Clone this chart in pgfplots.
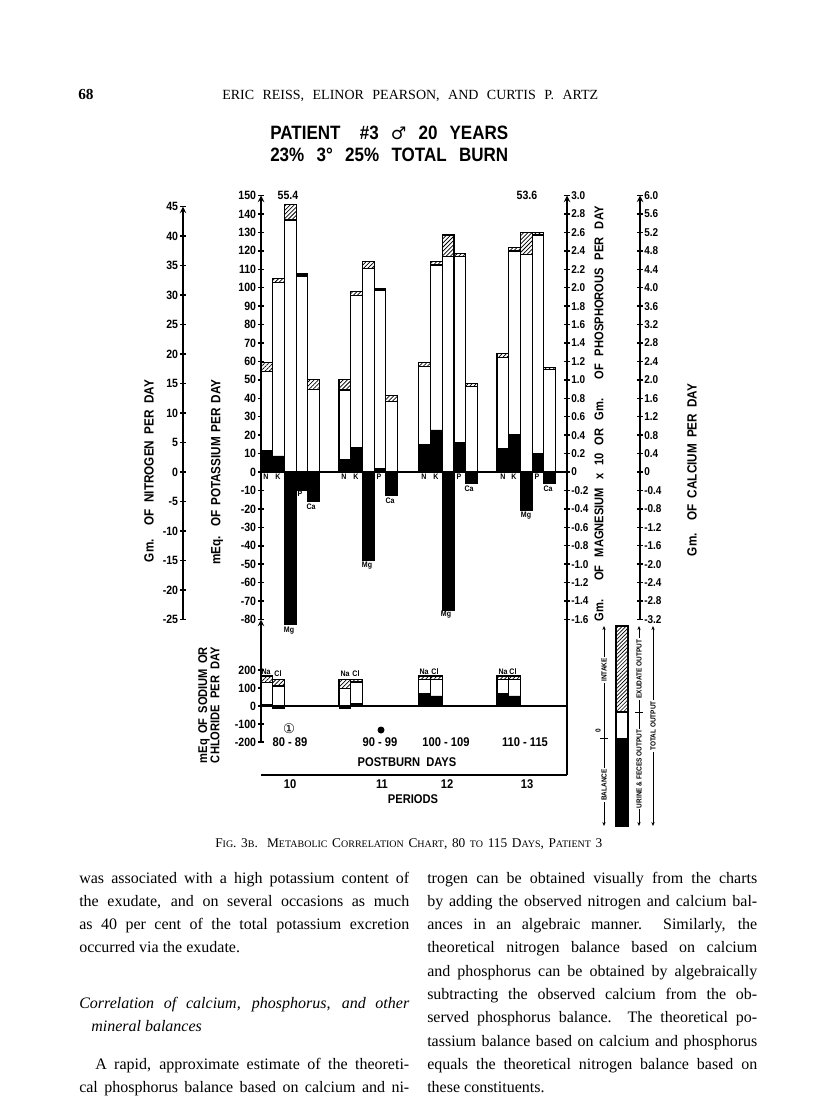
\documentclass[border=0pt]{standalone}
\usepackage{fontspec}
\setmainfont{Liberation Serif}
\setsansfont{Liberation Sans}
\newfontfamily\cf[FakeStretch=0.88]{Liberation Sans}
\newfontfamily\dvs{DejaVu Sans}
\usepackage{pgfplots}
\pgfplotsset{compat=1.18}
\usetikzlibrary{patterns.meta,arrows.meta}

\newcommand\cfs[1]{\cf\bfseries\fontsize{#1}{#1}\selectfont}
\newcommand\sm[1]{{\fontsize{7.5}{7.5}\selectfont #1}}
% body lines: justified (bl) and natural (bn)
\newcommand\bl[3]{\node[anchor=base west, inner sep=0] at (#1,#2) {\fontsize{12}{12}\selectfont\makebox[247.5pt][s]{#3}};}
\newcommand\bn[3]{\node[anchor=base west, inner sep=0] at (#1,#2) {\fontsize{12}{12}\selectfont #3};}

\pgfplotsset{
  spine/.style={scale only axis, axis x line=none, clip=false,
    axis line style={-, line width=1.2pt},
    tick style={black, line width=1.1pt},
    major tick length=4pt, tick align=outside,
    yticklabel style={font=\cfs{9}, inner sep=1.5pt},
    xmin=0, xmax=1},
  hatch/.style={pattern={Lines[angle=45,distance=2.2pt,line width=0.55pt]}},
  bar/.style={ybar, bar width=11.7, bar shift=0pt, draw=black, line width=0.9pt},
}

\begin{document}
\begin{tikzpicture}
\begin{scope}[x=0.75pt,y=-0.75pt]
\fill[white] (0,0) rectangle (816,1109);
\end{scope}

% nitrogen scale
\begin{axis}[spine, at={(137.25pt,-464.625pt)}, anchor=south west,
  width=1pt, height=309.75pt, ymin=-25, ymax=45, axis y line=left,
  ytick={-25,-20,...,45},
  yticklabels={-25,-20,-15,-10,-5,0,5,10,15,20,25,30,35,40,45}]
\end{axis}

% potassium (main) axis with the balance bars
\begin{axis}[spine, at={(195.75pt,-464.625pt)}, anchor=south west,
  width=229.5pt, height=318pt, xmin=261, xmax=567, ymin=-80, ymax=150,
  axis y line=left, ytick={-80,-70,...,150},
  yticklabels={-80,-70,-60,-50,-40,-30,-20,-10,0,10,20,30,40,50,60,70,80,90,100,110,120,130,140,150}]
% total (top of hatched exudate part)
\addplot[bar, hatch] coordinates {
 (266.85,59.5) (278.55,104.9) (290.25,145) (301.95,107.4) (313.65,50)
 (344.85,50) (356.55,97.8) (368.25,114) (379.95,99.3) (391.65,41.4)
 (424.65,59.5) (436.35,114) (448.05,128.6) (459.75,118.6) (471.45,48)
 (502.85,64.4) (514.55,121.7) (526.25,129.9) (537.95,130) (549.65,56.5)};
% white part
\addplot[bar, fill=white] coordinates {
 (266.85,54.4) (278.55,102.7) (290.25,136.7) (301.95,106.3) (313.65,44.9)
 (344.85,44.5) (356.55,95.7) (368.25,110.3) (379.95,98.3) (391.65,38.2)
 (424.65,57.2) (436.35,112.3) (448.05,116.8) (459.75,116.8) (471.45,46.3)
 (502.85,62.2) (514.55,119.9) (526.25,117.9) (537.95,128.6) (549.65,55.5)};
% balance
\addplot[bar, fill=black, line width=0.5pt] coordinates {
 (266.85,11.6) (278.55,8.7) (290.25,-82.7) (301.95,-10) (313.65,-16)
 (344.85,7) (356.55,13.4) (368.25,-47.7) (379.95,2) (391.65,-12.5)
 (424.65,15) (436.35,22.8) (448.05,-74.9) (459.75,16) (471.45,-6.2)
 (502.85,13) (514.55,20.6) (526.25,-20.6) (537.95,10) (549.65,-6.3)};
\addplot[black, line width=1.4pt] coordinates {(261,0) (567,0)};
\end{axis}

% sodium / chloride panel
\begin{axis}[spine, at={(195.75pt,-556.5pt)}, anchor=south west,
  width=229.5pt, height=91.875pt, xmin=261, xmax=567, ymin=-200, ymax=480.56,
  axis y line=left, ytick={-200,-100,0,100,200}, yticklabels={-200,-100,0,100,200}]
\addplot[bar, hatch] coordinates {
 (266.85,167) (278.55,148) (344.85,148) (356.55,148)
 (424.65,167) (436.35,167) (502.85,167) (514.55,167)};
\addplot[bar, fill=white] coordinates {
 (266.85,130) (278.55,111) (344.85,98) (356.55,133)
 (424.65,148) (436.35,148) (502.85,148) (514.55,148)};
\addplot[bar, fill=black, line width=0.5pt] coordinates {
 (266.85,8) (278.55,-13) (344.85,-13) (356.55,15)
 (424.65,70) (436.35,56) (502.85,70) (514.55,56)};
\addplot[black, line width=1.4pt] coordinates {(261,0) (567,0)};
\end{axis}

% magnesium x 10 / phosphorus scale
\begin{axis}[spine, at={(425.25pt,-464.625pt)}, anchor=south east,
  width=1pt, height=318pt, ymin=-80, ymax=150, axis y line=right,
  yticklabel style={font=\cfs{8.5}, inner sep=1pt},
  ytick={-80,-70,...,150},
  yticklabels={-1.6,-1.4,-1.2,-1.0,-0.8,-0.6,-0.4,-0.2,0,0.2,0.4,0.6,0.8,1.0,1.2,1.4,1.6,1.8,2.0,2.2,2.4,2.6,2.8,3.0}]
\end{axis}

% calcium scale
\begin{axis}[spine, at={(480pt,-464.625pt)}, anchor=south east,
  width=1pt, height=318pt, ymin=-80, ymax=150, axis y line=right,
  yticklabel style={font=\cfs{8.5}, inner sep=1pt},
  ytick={-80,-70,...,150},
  yticklabels={-3.2,-2.8,-2.4,-2.0,-1.6,-1.2,-0.8,-0.4,0,0.4,0.8,1.2,1.6,2.0,2.4,2.8,3.2,3.6,4.0,4.4,4.8,5.2,5.6,6.0}]
\end{axis}

\begin{scope}[x=0.75pt,y=-0.75pt]
% header and title
\node[anchor=base west, inner sep=0] at (78,100) {\bfseries\fontsize{11.5}{11.5}\selectfont 68};
\node[anchor=base west, inner sep=0] at (222,100) {\fontsize{10.5}{10.5}\selectfont\makebox[282pt][s]{ERIC REISS, ELINOR PEARSON, AND CURTIS P. ARTZ}};
\node[anchor=base west, inner sep=0] at (270,140) {\cfs{14.5}\makebox[178.5pt][s]{PATIENT\quad \#3 {\dvs\bfseries\fontsize{13}{13}\selectfont ♂} 20 YEARS}};
\node[anchor=base west, inner sep=0] at (270,162) {\cfs{14.5}\makebox[178.5pt][s]{23\% 3° 25\%\ TOTAL BURN}};

% lines continuing the chart frame
\draw[line width=1.2pt] (567,619.5) -- (567,775);
\draw[line width=1.3pt] (261,775) -- (567,775);

% numbers above bars
\node[font=\cfs{9}] at (288,195) {55.4};
\node[font=\cfs{9}] at (527,195) {53.6};

% bar letters
\begin{scope}[every node/.style={font=\cfs{6}, inner sep=0}]
\node at (266,477) {N}; \node at (278,477) {K};
\node at (344,477) {N}; \node at (356,477) {K};
\node at (424,477) {N}; \node at (436,477) {K};
\node at (503,477) {N}; \node at (514,477) {K};
\node at (300,494) {P}; \node at (379,477) {P}; \node at (459,477) {P}; \node at (537,477) {P};
\node at (311,507) {Ca}; \node at (390,501) {Ca}; \node at (469,489) {Ca}; \node at (548,489) {Ca};
\node at (289,631) {Mg}; \node at (367,566) {Mg}; \node at (446,615) {Mg}; \node at (526,516) {Mg};
\node at (266,672) {Na}; \node at (278,674) {Cl};
\node at (345,674) {Na}; \node at (356,674) {Cl};
\node at (424,672) {Na}; \node at (435,672) {Cl};
\node at (503,672) {Na}; \node at (513,672) {Cl};
\end{scope}

% axis titles
\node[rotate=90, font=\cfs{10}] at (149,471) {\makebox[136.5pt][s]{Gm. OF NITROGEN PER DAY}};
\node[rotate=90, font=\cfs{10}] at (217,472) {\makebox[138.75pt][s]{mEq. OF POTASSIUM PER DAY}};
\node[rotate=90, font=\cfs{9.5}] at (204,705) {\makebox[87pt][s]{mEq OF SODIUM OR}};
\node[rotate=90, font=\cfs{9.5}] at (215,705) {\makebox[87pt][s]{CHLORIDE PER DAY}};
\node[rotate=90, font=\cfs{9.5}] at (599,414) {\makebox[311.25pt][s]{Gm. OF MAGNESIUM x 10 OR Gm. OF PHOSPHOROUS PER DAY}};
\node[rotate=90, font=\cfs{10}] at (692,470) {\makebox[129pt][s]{Gm. OF CALCIUM PER DAY}};

% days and periods
\node[font={\dvs\fontsize{10}{10}\selectfont}] at (289,729) {①};
\fill (381,730) circle (3.5);
\begin{scope}[every node/.style={font=\cfs{9.5}}]
\node at (290,742) {80 - 89};
\node at (380,742) {90 - 99};
\node at (446,742) {100 - 109};
\node at (525,742) {110 - 115};
\node at (407,762) {POSTBURN\ \ DAYS};
\node at (290,784) {10};
\node at (382,784) {11};
\node at (447,784) {12};
\node at (527,784) {13};
\node at (413,799) {PERIODS};
\end{scope}

% key bar
\fill[white] (616,626) rectangle (628,826);
\fill[pattern={Lines[angle=45,distance=2pt,line width=0.5pt]}] (616,626) rectangle (628,712);
\fill[black] (616,738) rectangle (628,826);
\draw[line width=0.8pt] (616,626) rectangle (628,826);
\draw[line width=0.8pt] (616,712) -- (628,712);
\begin{scope}[line width=0.6pt, >={Stealth[length=3pt,width=2.5pt]}]
\draw[<->] (604,626) -- (604,826);
\draw (600,738) -- (608,738);
\draw[<->] (639,626) -- (639,826);
\draw (635,712) -- (643,712);
\draw[<->] (653,626) -- (653,826);
\end{scope}
\begin{scope}[every node/.style={rotate=90, fill=white, inner sep=1pt, font=\cfs{5.5}}]
\node at (604,670) {INTAKE};
\node at (604,785) {BALANCE};
\node at (639,669) {EXUDATE OUTPUT};
\node at (639,769) {URINE \& FECES OUTPUT};
\node at (653,726) {TOTAL OUTPUT};
\end{scope}
\node[rotate=90, inner sep=0, font=\cfs{5.5}] at (598,731) {0};

% caption
\node[anchor=base west, inner sep=0] at (215,847) {\fontsize{10}{10}\selectfont\makebox[290.25pt][s]{F\sm{IG}. 3\sm{B}.\ \ M\sm{ETABOLIC} C\sm{ORRELATION} C\sm{HART}, 80 \sm{TO} 115 D\sm{AYS}, P\sm{ATIENT} 3}};

% body text, left column
\bl{79}{883}{was associated with a high potassium content of}
\bl{79}{906.3}{the exudate, and on several occasions as much}
\bl{79}{929.6}{as 40 per cent of the total potassium excretion}
\bn{79}{952.9}{occurred via the exudate.}
\bl{79}{1008}{\itshape Correlation of calcium, phosphorus, and other}
\bn{91}{1031}{\itshape mineral balances}
\bl{79}{1069.4}{\hspace{12pt}A rapid, approximate estimate of the theoreti-}
\bl{79}{1092.7}{cal phosphorus balance based on calcium and ni-}
% right column
\bl{427}{883}{trogen can be obtained visually from the charts}
\bl{427}{906.3}{by adding the observed nitrogen and calcium bal-}
\bl{427}{929.6}{ances in an algebraic manner.\ \ Similarly, the}
\bl{427}{952.9}{theoretical nitrogen balance based on calcium}
\bl{427}{976.2}{and phosphorus can be obtained by algebraically}
\bl{427}{999.5}{subtracting the observed calcium from the ob-}
\bl{427}{1022.8}{served phosphorus balance.\ \ The theoretical po-}
\bl{427}{1046.1}{tassium balance based on calcium and phosphorus}
\bl{427}{1069.4}{equals the theoretical nitrogen balance based on}
\bn{427}{1092.7}{these constituents.}
\end{scope}
\end{tikzpicture}
\end{document}
